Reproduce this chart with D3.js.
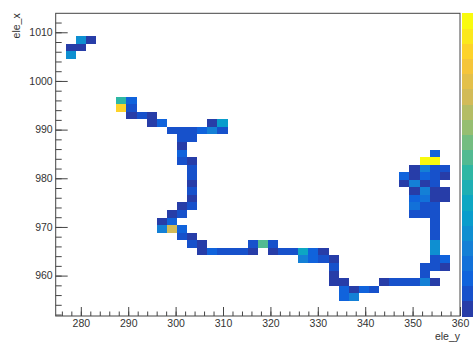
<!DOCTYPE html>
<html>
<head>
<meta charset="utf-8">
<script src="https://cdn.jsdelivr.net/npm/d3@7"></script>
<style>
  body { margin: 0; background: #fff; }
  text { font-family: "Liberation Sans", Arial, sans-serif; }
</style>
</head>
<body>
<div id="chart"></div>
<script>
// filled bins: ele_y (horizontal), ele_x (vertical) and bin content
const eleY = [
  280.0, 282.2,
  277.9, 280.0,
  277.9,
  288.6, 290.7,
  288.6, 290.7,
  290.7, 292.8, 295.0,
  295.0, 297.1, 307.8, 309.9,
  299.2, 301.4, 303.5, 305.6, 307.8, 309.9,
  301.4, 303.5,
  301.4,
  301.4,
  301.4, 303.5,
  303.5,
  303.5,
  303.5,
  303.5,
  303.5,
  301.4, 303.5,
  299.2, 301.4,
  297.1, 299.2,
  297.1, 299.2, 301.4,
  301.4, 303.5,
  303.5, 305.6, 316.3, 318.4, 320.6,
  305.6, 307.8, 309.9, 312.0, 314.2, 316.3, 320.6, 322.7, 324.8, 327.0, 329.1, 331.2,
  327.0, 329.1, 331.2, 333.4,
  333.4,
  333.4,
  333.4, 335.5, 344.0, 346.2, 348.3, 350.4, 352.6, 354.7,
  335.5, 337.6, 339.8, 341.9,
  335.5, 337.6,
  // right-hand cluster
  354.7,
  352.6, 354.7,
  350.4, 352.6, 354.7, 356.8,
  348.3, 350.4, 352.6, 354.7, 356.8,
  348.3, 350.4, 352.6, 354.7,
  350.4, 352.6, 354.7, 356.8,
  350.4, 352.6, 354.7, 356.8,
  350.4, 352.6, 354.7,
  350.4, 352.6, 354.7,
  354.7,
  354.7,
  354.7,
  354.7,
  354.7,
  354.7, 356.8,
  352.6, 354.7, 356.8,
  352.6
];
const eleX = [
  1008.5, 1008.5,
  1006.9, 1006.9,
  1005.4,
  996.0, 996.0,
  994.5, 994.5,
  992.9, 992.9, 992.9,
  991.4, 991.4, 991.4, 991.4,
  989.8, 989.8, 989.8, 989.8, 989.8, 989.8,
  988.2, 988.2,
  986.7,
  985.1,
  983.6, 983.6,
  982.0,
  980.5,
  978.9,
  977.4,
  975.8,
  974.2, 974.2,
  972.7, 972.7,
  971.1, 971.1,
  969.6, 969.6, 969.6,
  968.0, 968.0,
  966.5, 966.5, 966.5, 966.5, 966.5,
  964.9, 964.9, 964.9, 964.9, 964.9, 964.9, 964.9, 964.9, 964.9, 964.9, 964.9, 964.9,
  963.4, 963.4, 963.4, 963.4,
  961.8,
  960.3,
  958.7, 958.7, 958.7, 958.7, 958.7, 958.7, 958.7, 958.7,
  957.1, 957.1, 957.1, 957.1,
  955.6, 955.6,
  985.1,
  983.6, 983.6,
  982.0, 982.0, 982.0, 982.0,
  980.5, 980.5, 980.5, 980.5, 980.5,
  978.9, 978.9, 978.9, 978.9,
  977.4, 977.4, 977.4, 977.4,
  975.8, 975.8, 975.8, 975.8,
  974.2, 974.2, 974.2,
  972.7, 972.7, 972.7,
  971.1,
  969.6,
  968.0,
  966.5,
  964.9,
  963.4, 963.4,
  961.8, 961.8, 961.8,
  960.3
];
const counts = [
  6, 1,
  1, 1,
  6,
  10, 3,
  18, 2,
  1, 2, 1,
  1, 3, 1, 7,
  2, 2, 2, 3, 5, 2,
  2, 2,
  1,
  3,
  2, 1,
  2,
  2,
  1,
  2,
  1,
  1, 2,
  1, 2,
  1, 3,
  5, 15, 3,
  2, 1,
  2, 1, 2, 11, 2,
  1, 3, 2, 2, 2, 1, 1, 2, 2, 8, 3, 1,
  5, 3, 2, 1,
  2,
  1,
  1, 1, 1, 2, 2, 2, 5, 1,
  3, 1, 3, 2,
  3, 5,
  3,
  20, 20,
  1, 5, 2, 2,
  3, 1, 3, 2, 1,
  1, 5, 1, 2,
  1, 5, 1, 1,
  3, 4, 1, 1,
  4, 2, 2,
  2, 2, 2,
  2,
  2,
  2,
  6,
  6,
  2, 3,
  2, 2, 1,
  2
];

const xTicks = [280, 290, 300, 310, 320, 330, 340, 350, 360];
const yTicks = [960, 970, 980, 990, 1000, 1010];

const xRange = [274.7, 360];
const yRange = [951.7, 1013.9];
const nBins = 40;
const zRange = [1, 20];
const nContours = 20;

// ROOT kBird palette
const birdStops = [0, 0.125, 0.25, 0.375, 0.5, 0.625, 0.75, 0.875, 1];
const birdColors = ['#352a87', '#0f5cdd', '#1481d6', '#06a4ca', '#2eb7a4',
                    '#87bf77', '#d1bb59', '#fec832', '#f9fb0e'];

const W = 473, H = 342;
const frame = { left: 55.7, right: 460, top: 13.3, bottom: 316 };

const svg = d3.select('#chart').append('svg')
  .attr('width', W)
  .attr('height', H);

const x = d3.scaleLinear().domain(xRange).range([frame.left, frame.right]);
const y = d3.scaleLinear().domain(yRange).range([frame.bottom, frame.top]);

const xEdges = d3.range(nBins + 1).map(i => xRange[0] + i * (xRange[1] - xRange[0]) / nBins);
const yEdges = d3.range(nBins + 1).map(i => yRange[0] + i * (yRange[1] - yRange[0]) / nBins);

const bird = d3.scaleLinear().domain(birdStops).range(birdColors).interpolate(d3.interpolateRgb);
const zLevel = d3.scaleLinear().domain(zRange).range([0, nContours]);

function levelColor(lvl) {
  const idx = Math.floor((lvl + 0.99) * 255 / nContours);
  return bird(Math.min(1, idx / 254));
}
function zColor(v) {
  const lvl = Math.max(0, Math.min(nContours - 1, Math.floor(zLevel(v))));
  return levelColor(lvl);
}

const cells = counts.map((c, i) => {
  const bx = d3.bisectRight(xEdges, eleY[i]) - 1;
  const by = d3.bisectRight(yEdges, eleX[i]) - 1;
  return { bx, by, c };
});

svg.append('g')
  .selectAll('rect')
  .data(cells)
  .join('rect')
  .attr('x', d => x(xEdges[d.bx]))
  .attr('y', d => y(yEdges[d.by + 1]))
  .attr('width', d => x(xEdges[d.bx + 1]) - x(xEdges[d.bx]))
  .attr('height', d => y(yEdges[d.by]) - y(yEdges[d.by + 1]))
  .attr('fill', d => zColor(d.c))
  .attr('shape-rendering', 'crispEdges');

// palette on the right edge
const zY = d3.scaleLinear().domain([0, nContours]).range([frame.bottom, frame.top]);
svg.append('g')
  .selectAll('rect')
  .data(d3.range(nContours))
  .join('rect')
  .attr('x', 461.5)
  .attr('width', 30)
  .attr('y', d => zY(d + 1))
  .attr('height', d => zY(d) - zY(d + 1) + 0.5)
  .attr('fill', d => levelColor(d))
  .attr('shape-rendering', 'crispEdges');

// frame
svg.append('rect')
  .attr('x', frame.left)
  .attr('y', frame.top)
  .attr('width', frame.right - frame.left)
  .attr('height', frame.bottom - frame.top)
  .attr('fill', 'none')
  .attr('stroke', '#444')
  .attr('stroke-width', 1);

function styleAxis(g) {
  g.select('.domain').remove();
  g.selectAll('line').attr('stroke', '#444');
  g.selectAll('text').attr('fill', '#333').style('font-size', '10.5px');
}

// x axis
svg.append('g')
  .attr('transform', `translate(0,${frame.bottom})`)
  .call(d3.axisBottom(x).tickValues(d3.range(276, 361, 2)).tickSize(-4.5).tickFormat(''))
  .call(styleAxis);
svg.append('g')
  .attr('transform', `translate(0,${frame.bottom})`)
  .call(d3.axisBottom(x).tickValues(xTicks).tickSizeInner(-9).tickSizeOuter(0)
    .tickPadding(4).tickFormat(d3.format('d')))
  .call(styleAxis);

// y axis
svg.append('g')
  .attr('transform', `translate(${frame.left},0)`)
  .call(d3.axisLeft(y).tickValues(d3.range(952, 1013, 2)).tickSize(-6).tickFormat(''))
  .call(styleAxis);
svg.append('g')
  .attr('transform', `translate(${frame.left},0)`)
  .call(d3.axisLeft(y).tickValues(yTicks).tickSizeInner(-12).tickSizeOuter(0)
    .tickPadding(3).tickFormat(d3.format('d')))
  .call(styleAxis);

// axis titles
svg.append('text')
  .attr('x', frame.right)
  .attr('y', 340)
  .attr('text-anchor', 'end')
  .attr('fill', '#333')
  .style('font-size', '10.5px')
  .text('ele_y');

svg.append('text')
  .attr('transform', `translate(19.5,${frame.top}) rotate(-90)`)
  .attr('text-anchor', 'end')
  .attr('fill', '#333')
  .style('font-size', '10.5px')
  .text('ele_x');
</script>
</body>
</html>
